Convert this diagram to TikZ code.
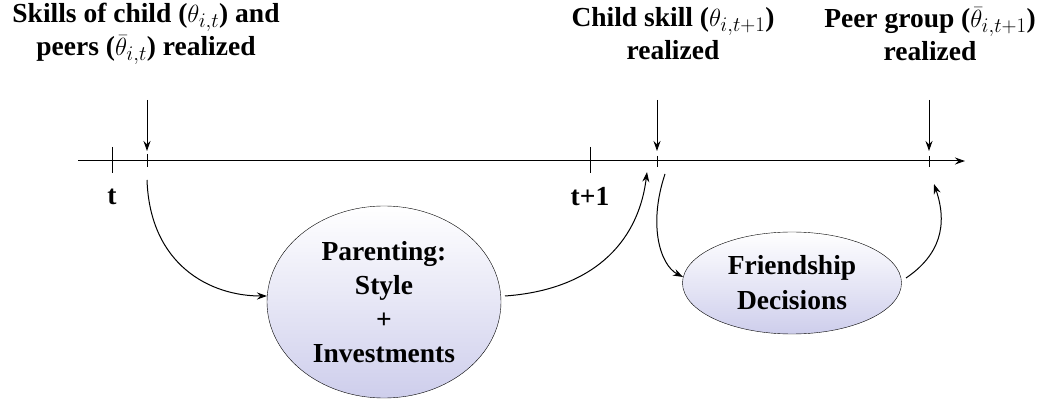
\documentclass[tikz,border=0pt]{standalone}
\usepackage{fontspec}
\setmainfont{Liberation Serif}
\usetikzlibrary{arrows.meta,shapes.geometric}
\definecolor{bubbot}{RGB}{206,206,236}
\begin{document}
\begin{tikzpicture}[x=1pt,y=-1pt,
  lbl/.style={font=\fontsize{27.5}{33}\selectfont\bfseries, align=center, inner sep=0pt},
  bub/.style={ellipse, draw, thin, top color=white, bottom color=bubbot, inner sep=0pt,
    align=center, font=\fontsize{27.5}{34}\selectfont\bfseries},
  arr/.style={-{Stealth[length=10pt,width=7pt]}, line width=1pt},
  tk/.style={line width=1pt}]
\useasboundingbox (0,0) rectangle (1045,403);
% axis
\coordinate (a0) at (78,161);
\coordinate (a1) at (965,161);
\draw[arr] (a0) -- (a1);
% ticks
\draw[tk] (112,147) -- (112,173);
\draw[tk] (590,147) -- (590,173);
\draw[tk] (147,154) -- (147,167);
\draw[tk] (657,156) -- (657,167);
\draw[tk] (929,156) -- (929,167);
\node[lbl] (lt) at (112,197) {t};
\node[lbl] (lt1) at (590,197) {t+1};
% top labels
\node[lbl] (s1) at (146,34) {Skills of child ($\theta_{i,t}$) and\\peers ($\bar{\theta}_{i,t}$) realized};
\node[lbl] (s2) at (673,34) {Child skill ($\theta_{i,t+1}$)\\realized};
\node[lbl] (s3) at (930,34) {Peer group ($\bar{\theta}_{i,t+1}$)\\realized};
\coordinate (d1) at (147,100); \coordinate (e1) at (147,151);
\coordinate (d2) at (657,100); \coordinate (e2) at (657,151);
\coordinate (d3) at (929,100); \coordinate (e3) at (929,151);
\draw[arr] (d1) -- (e1);
\draw[arr] (d2) -- (e2);
\draw[arr] (d3) -- (e3);
% ellipses
\node[bub, minimum width=234pt, minimum height=192pt] (par) at (384,302) {Parenting:\\Style\\+\\Investments};
\node[bub, minimum width=219pt, minimum height=102pt, font=\fontsize{27.5}{35}\selectfont\bfseries] (fr) at (792,283) {Friendship\\Decisions};
% curved arrows
\coordinate (c1) at (147,180);
\coordinate (c2) at (647,172);
\coordinate (c3) at (665,174);
\coordinate (c4) at (934,184);
\coordinate (p1) at (267,296);
\coordinate (p2) at (505,296);
\coordinate (f1) at (683,277);
\coordinate (f2) at (906,278);
\draw[arr] (c1) .. controls (150,265) and (210,296) .. (p1);
\draw[arr] (p2) .. controls (590,290) and (638,245) .. (c2);
\draw[arr] (c3) .. controls (648,225) and (660,265) .. (f1);
\draw[arr] (f2) .. controls (940,255) and (948,225) .. (c4);
\end{tikzpicture}
\end{document}
